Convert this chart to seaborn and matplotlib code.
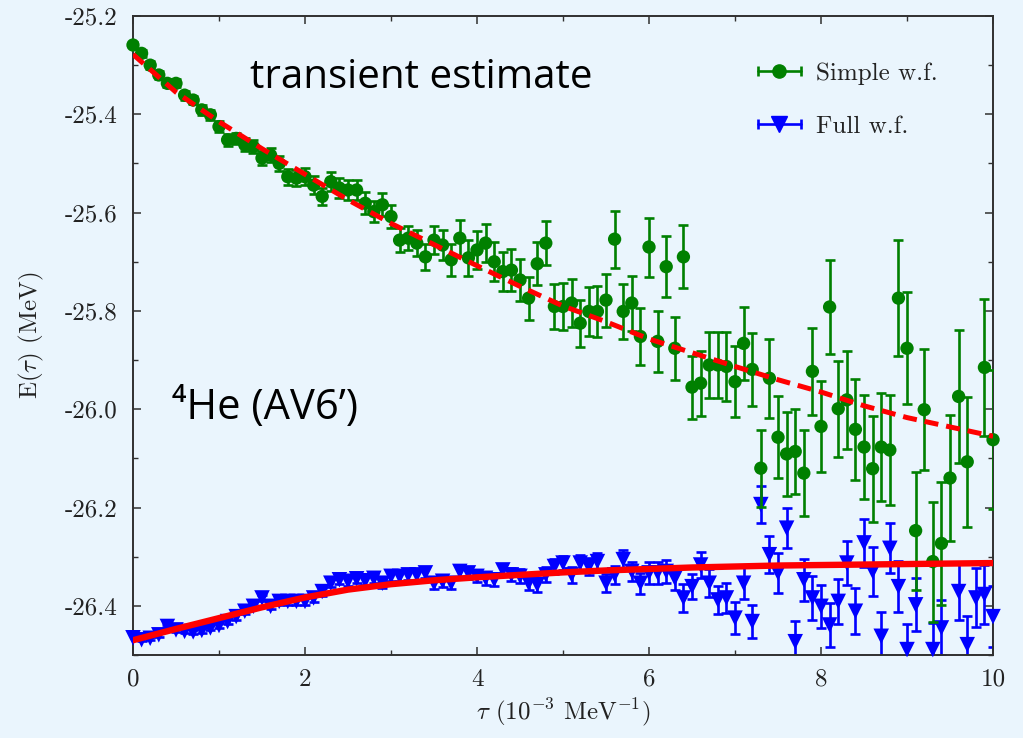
import numpy as np
import matplotlib
matplotlib.use("Agg")
import matplotlib.pyplot as plt
from matplotlib.lines import Line2D
from matplotlib.legend_handler import HandlerTuple, HandlerLine2D
from matplotlib.ticker import MultipleLocator
import seaborn as sns

# imaginary-time grid (10^-3 MeV^-1)
tau = [
    0.0, 0.1, 0.2, 0.3, 0.4, 0.5, 0.6, 0.7, 0.8, 0.9,
    1.0, 1.1, 1.2, 1.3, 1.4, 1.5, 1.6, 1.7, 1.8, 1.9,
    2.0, 2.1, 2.2, 2.3, 2.4, 2.5, 2.6, 2.7, 2.8, 2.9,
    3.0, 3.1, 3.2, 3.3, 3.4, 3.5, 3.6, 3.7, 3.8, 3.9,
    4.0, 4.1, 4.2, 4.3, 4.4, 4.5, 4.6, 4.7, 4.8, 4.9,
    5.0, 5.1, 5.2, 5.3, 5.4, 5.5, 5.6, 5.7, 5.8, 5.9,
    6.0, 6.1, 6.2, 6.3, 6.4, 6.5, 6.6, 6.7, 6.8, 6.9,
    7.0, 7.1, 7.2, 7.3, 7.4, 7.5, 7.6, 7.7, 7.8, 7.9,
    8.0, 8.1, 8.2, 8.3, 8.4, 8.5, 8.6, 8.7, 8.8, 8.9,
    9.0, 9.1, 9.2, 9.3, 9.4, 9.5, 9.6, 9.7, 9.8, 9.9,
    10.0,
]

nan = np.nan

# Simple w.f.
e_simple = [
    -25.259, -25.276, -25.300, -25.320, -25.337, -25.337, -25.361, -25.371, -25.391, -25.401,
    -25.425, -25.452, -25.449, -25.462, -25.466, -25.489, -25.483, -25.500, -25.527, -25.530,
    -25.527, -25.544, -25.567, -25.537, -25.550, -25.554, -25.554, -25.581, -25.598, -25.584,
    -25.608, -25.656, -25.652, -25.662, -25.690, -25.656, -25.666, -25.696, -25.652, -25.692,
    -25.676, -25.662, -25.700, -25.720, -25.717, -25.737, -25.774, -25.704, -25.662, -25.791,
    -25.791, -25.784, -25.825, -25.801, -25.801, -25.778, -25.654, -25.801, -25.784, -25.852,
    -25.670, -25.862, -25.710, -25.876, -25.690, -25.955, -25.947, -25.910, -25.910, -25.913,
    -25.944, -25.866, -25.919, -26.120, -25.937, -26.057, -26.091, -26.086, -26.130, -25.923,
    -26.035, -25.792, -25.999, -25.981, -26.041, -26.077, -26.121, -26.077, -26.083, -25.774,
    -25.876, -26.247, -26.001, -26.310, -26.273, -26.140, -25.974, -26.107, nan, -25.915,
    -26.062,
]
err_simple = [
    0.007, 0.007, 0.008, 0.008, 0.008, 0.008, 0.009, 0.009, 0.010, 0.010,
    0.011, 0.012, 0.012, 0.013, 0.013, 0.014, 0.014, 0.015, 0.016, 0.016,
    0.017, 0.018, 0.018, 0.019, 0.020, 0.020, 0.021, 0.022, 0.022, 0.023,
    0.023, 0.024, 0.025, 0.026, 0.027, 0.028, 0.030, 0.032, 0.036, 0.036,
    0.038, 0.038, 0.040, 0.040, 0.042, 0.043, 0.044, 0.044, 0.045, 0.046,
    0.047, 0.048, 0.048, 0.050, 0.052, 0.054, 0.058, 0.056, 0.056, 0.058,
    0.060, 0.062, 0.062, 0.064, 0.064, 0.064, 0.066, 0.068, 0.068, 0.070,
    0.072, 0.074, 0.075, 0.078, 0.080, 0.083, 0.085, 0.086, 0.088, 0.089,
    0.092, 0.096, 0.098, 0.100, 0.102, 0.105, 0.108, 0.110, 0.112, 0.118,
    0.114, 0.120, 0.123, 0.122, 0.125, 0.128, 0.136, 0.132, 0.135, 0.140,
    0.142,
]

# Full w.f.
e_full = [
    -26.465, -26.469, -26.466, -26.459, -26.442, -26.449, -26.452, -26.453, -26.450, -26.445,
    -26.440, -26.432, -26.422, -26.411, -26.401, -26.384, -26.401, -26.391, -26.391, -26.391,
    -26.391, -26.384, -26.371, -26.354, -26.347, -26.350, -26.345, -26.349, -26.344, -26.354,
    -26.340, -26.340, -26.337, -26.337, -26.333, -26.354, -26.350, -26.354, -26.330, -26.333,
    -26.340, -26.344, -26.347, -26.327, -26.337, -26.340, -26.354, -26.357, -26.337, -26.320,
    -26.313, -26.337, -26.313, -26.320, -26.310, -26.354, -26.337, -26.306, -26.330, -26.354,
    -26.333, -26.333, -26.330, -26.344, -26.384, -26.361, -26.317, -26.354, -26.388, -26.384,
    -26.425, -26.354, -26.432, -26.194, -26.296, -26.333, -26.242, -26.473, -26.347, -26.384,
    -26.401, -26.439, -26.391, -26.313, -26.411, -26.272, -26.330, -26.462, -26.283, -26.361,
    -26.489, -26.398, nan, -26.489, -26.445, nan, -26.371, -26.479, -26.384, -26.377,
    -26.422,
]
err_full = [
    0.003, 0.003, 0.003, 0.004, 0.004, 0.004, 0.004, 0.004, 0.005, 0.005,
    0.005, 0.005, 0.006, 0.006, 0.006, 0.006, 0.006, 0.007, 0.007, 0.007,
    0.007, 0.008, 0.008, 0.008, 0.008, 0.009, 0.009, 0.009, 0.009, 0.010,
    0.010, 0.010, 0.010, 0.011, 0.011, 0.011, 0.011, 0.012, 0.012, 0.012,
    0.012, 0.013, 0.013, 0.013, 0.013, 0.014, 0.014, 0.014, 0.015, 0.015,
    0.015, 0.016, 0.016, 0.017, 0.017, 0.018, 0.018, 0.019, 0.020, 0.021,
    0.022, 0.022, 0.023, 0.024, 0.028, 0.026, 0.027, 0.028, 0.029, 0.030,
    0.032, 0.033, 0.034, 0.037, 0.038, 0.040, 0.041, 0.042, 0.043, 0.044,
    0.044, 0.045, 0.046, 0.044, 0.047, 0.048, 0.049, 0.050, 0.051, 0.052,
    0.053, 0.054, 0.055, 0.055, 0.056, 0.057, 0.058, 0.058, 0.060, 0.060,
    0.062,
]

# fitted curves
fit_tau = [0.0, 0.5, 1.0, 1.5, 2.0, 2.5, 3.0, 3.5, 4.0, 4.5,
           5.0, 5.5, 6.0, 6.5, 7.0, 7.5, 8.0, 8.5, 9.0, 9.5, 10.0]
fit_simple = [-25.278, -25.355, -25.415, -25.470, -25.522, -25.574, -25.622,
              -25.665, -25.708, -25.750, -25.790, -25.822, -25.857, -25.885,
              -25.913, -25.940, -25.965, -25.993, -26.017, -26.036, -26.055]
fit_full = [-26.470, -26.447, -26.425, -26.403, -26.383, -26.367, -26.356,
            -26.348, -26.342, -26.337, -26.332, -26.328, -26.325, -26.322,
            -26.320, -26.318, -26.317, -26.316, -26.315, -26.314, -26.313]

BG = "#eaf5fd"
GREEN = "#008000"
BLUE = "#0000ff"
RED = "#ff0000"
INK = "#303030"

sns.set_theme(style="ticks")
plt.rcParams.update({
    "font.family": ["cmr10", "DejaVu Serif"],
    "mathtext.fontset": "cm",
    "axes.unicode_minus": False,
    "axes.formatter.use_mathtext": False,
    "figure.facecolor": BG,
    "axes.facecolor": BG,
    "axes.edgecolor": INK,
    "axes.linewidth": 1.4,
    "xtick.direction": "in",
    "ytick.direction": "in",
    "xtick.top": True,
    "ytick.right": True,
    "xtick.color": INK,
    "ytick.color": INK,
    "xtick.labelcolor": "#222222",
    "ytick.labelcolor": "#222222",
})

fig = plt.figure(figsize=(10.23, 7.38), dpi=100)
ax = fig.add_axes([0.130, 0.1125, 0.8407, 0.8658])

ebkw = dict(fmt="none", elinewidth=1.9, capsize=3.4, capthick=1.9)
ax.errorbar(tau, e_full, yerr=err_full, ecolor=BLUE, zorder=2, **ebkw)
sns.scatterplot(x=tau, y=e_full, color=BLUE, marker="v", s=125,
                edgecolor="none", linewidth=0, ax=ax, zorder=3, clip_on=False)
ax.errorbar(tau, e_simple, yerr=err_simple, ecolor=GREEN, zorder=4, **ebkw)
sns.scatterplot(x=tau, y=e_simple, color=GREEN, marker="o", s=92,
                edgecolor="none", linewidth=0, ax=ax, zorder=5, clip_on=False)

sns.lineplot(x=fit_tau, y=fit_simple, color=RED, lw=3.6,
             linestyle=(0, (2.8, 1.6)), ax=ax, zorder=6)
sns.lineplot(x=fit_tau, y=fit_full, color=RED, lw=4.6, ax=ax, zorder=6)

ax.set_xlim(0, 10)
ax.set_ylim(-26.5, -25.2)
ax.xaxis.set_major_locator(MultipleLocator(2))
ax.xaxis.set_minor_locator(MultipleLocator(1))
ax.yaxis.set_major_locator(MultipleLocator(0.2))
ax.yaxis.set_minor_locator(MultipleLocator(0.1))
ax.set_yticks(ax.get_yticks())
ax.set_yticklabels([f"{v:.1f}" for v in ax.get_yticks()])
ax.set_ylim(-26.5, -25.2)
ax.tick_params(which="major", length=5.5, width=1.1, labelsize=18)
ax.tick_params(which="minor", length=3.5, width=1.0)
ax.tick_params(axis="y", pad=11)
ax.tick_params(axis="x", pad=10)
for s in ax.spines.values():
    s.set_visible(True)

ax.set_xlabel(r"$\tau$ (10$^{-3}$ MeV$^{-1}$)", fontsize=18, color="#222222", labelpad=4)
ax.set_ylabel(r"E($\tau$) (MeV)", fontsize=18, color="#222222", labelpad=14)

ax.text(3.35, -25.326, "transient estimate", fontsize=29, ha="center", va="center",
        family=["Open Sans", "DejaVu Sans"], color="black")
ax.text(1.535, -25.997, "\u2074He (AV6\u2019)", fontsize=30, ha="center", va="center",
        family=["Open Sans", "DejaVu Sans"], color="black")

# gnuplot-style legend keys: horizontal bar with caps plus the marker
cap_g = Line2D([], [], color=GREEN, lw=1.9, marker="|", markersize=7, markeredgewidth=1.9)
dot_g = Line2D([], [], color=GREEN, ls="none", marker="o", markersize=9.5)
cap_b = Line2D([], [], color=BLUE, lw=1.9, marker="|", markersize=7, markeredgewidth=1.9)
tri_b = Line2D([], [], color=BLUE, ls="none", marker="v", markersize=11)
hmap = {
    cap_g: HandlerLine2D(numpoints=2, marker_pad=0),
    cap_b: HandlerLine2D(numpoints=2, marker_pad=0),
    dot_g: HandlerLine2D(numpoints=1),
    tri_b: HandlerLine2D(numpoints=1),
    tuple: HandlerTuple(ndivide=1, pad=0),
}
leg = ax.legend([(cap_g, dot_g), (cap_b, tri_b)], ["Simple w.f.", "Full w.f."],
                handler_map=hmap, loc="upper left", bbox_to_anchor=(0.727, 0.927),
                frameon=False, fontsize=18, handlelength=1.7, handletextpad=0.6,
                labelspacing=1.2, borderpad=0, borderaxespad=0)
for t in leg.get_texts():
    t.set_color("#222222")

fig.savefig("out.png", dpi=100, facecolor=BG)
